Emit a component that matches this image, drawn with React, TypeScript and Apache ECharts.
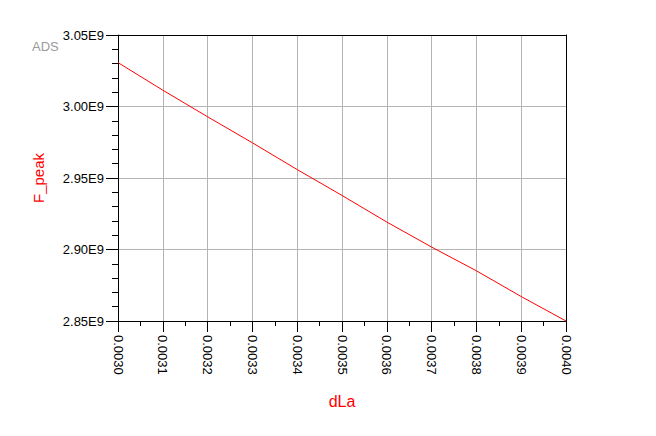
import React, { useEffect, useRef } from "react";
import * as echarts from "echarts";

const dLa = [0.003, 0.0031, 0.0032, 0.0033, 0.0034, 0.0035, 0.0036, 0.0037, 0.0038, 0.0039, 0.004];
const fPeak = [3.0307e9, 3.0114e9, 2.9928e9, 2.9746e9, 2.9559e9, 2.9378e9, 2.9192e9, 2.9017e9, 2.8851e9, 2.8671e9, 2.85e9];
const yMin = 2.85e9;
const yMax = 3.05e9;
const yStep = 0.05e9;
const xMin = 0.003;
const xMax = 0.004;
const xStep = 0.0001;

const FONT = "'Liberation Sans', Arial, sans-serif";

export default function App() {
  const ref = useRef<HTMLDivElement>(null);
  useEffect(() => {
    document.body.style.margin = "0";
    const chart = echarts.init(ref.current!, null, { renderer: "svg" });
    const data = dLa.map((x, i) => [x, fPeak[i]]);
    chart.setOption({
      animation: false,
      backgroundColor: "#ffffff",
      textStyle: { fontFamily: FONT },
      title: {
        text: "ADS",
        left: 27,
        top: 35,
        textStyle: { color: "#9a9a9a", fontSize: 13, fontWeight: "normal", fontFamily: FONT },
      },
      grid: { left: 118, right: 90, top: 35, bottom: 115, containLabel: false },
      xAxis: [
        {
          type: "value",
          min: xMin,
          max: xMax,
          interval: xStep,
          position: "bottom",
          name: "dLa",
          nameLocation: "middle",
          nameGap: 72,
          nameTextStyle: { color: "#ff0000", fontSize: 16, fontFamily: FONT },
          axisLine: { show: true, onZero: false, lineStyle: { color: "#000", width: 1 } },
          axisTick: { show: true, inside: false, length: 11, lineStyle: { color: "#000" } },
          minorTick: { show: true, splitNumber: 2, length: 5, lineStyle: { color: "#000" } },
          axisLabel: {
            rotate: -90,
            margin: 14,
            color: "#000",
            fontSize: 13,
            fontFamily: FONT,
            formatter: (v: number) => v.toFixed(4),
          },
          splitLine: { show: true, lineStyle: { color: "#b4b4b4", width: 1 } },
        },
        {
          type: "value",
          min: xMin,
          max: xMax,
          interval: xStep,
          position: "top",
          axisLine: { show: true, onZero: false, lineStyle: { color: "#000", width: 1 } },
          axisTick: { show: false },
          axisLabel: { show: false },
          splitLine: { show: false },
          z: 5,
        },
      ],
      yAxis: [
        {
          type: "value",
          min: yMin,
          max: yMax,
          interval: yStep,
          position: "left",
          name: "F_peak",
          nameLocation: "middle",
          nameRotate: 90,
          nameGap: 72,
          nameTextStyle: { color: "#ff0000", fontSize: 15, fontFamily: FONT },
          axisLine: { show: true, onZero: false, lineStyle: { color: "#000", width: 1 } },
          axisTick: { show: true, inside: false, length: 12, lineStyle: { color: "#000" } },
          minorTick: { show: true, splitNumber: 5, length: 6, lineStyle: { color: "#000" } },
          axisLabel: {
            margin: 14,
            color: "#000",
            fontSize: 13,
            fontFamily: FONT,
            formatter: (v: number) => (v / 1e9).toFixed(2) + "E9",
          },
          splitLine: { show: true, lineStyle: { color: "#b4b4b4", width: 1 } },
        },
        {
          type: "value",
          min: yMin,
          max: yMax,
          interval: yStep,
          position: "right",
          axisLine: { show: true, onZero: false, lineStyle: { color: "#000", width: 1 } },
          axisTick: { show: false },
          axisLabel: { show: false },
          splitLine: { show: false },
          z: 5,
        },
      ],
      series: [
        {
          type: "line",
          data,
          xAxisIndex: 0,
          yAxisIndex: 0,
          showSymbol: false,
          symbol: "none",
          lineStyle: { color: "#ff0000", width: 1 },
          z: 3,
        },
      ],
    });
    return () => chart.dispose();
  }, []);
  return <div ref={ref} style={{ width: 656, height: 436 }} />;
}
